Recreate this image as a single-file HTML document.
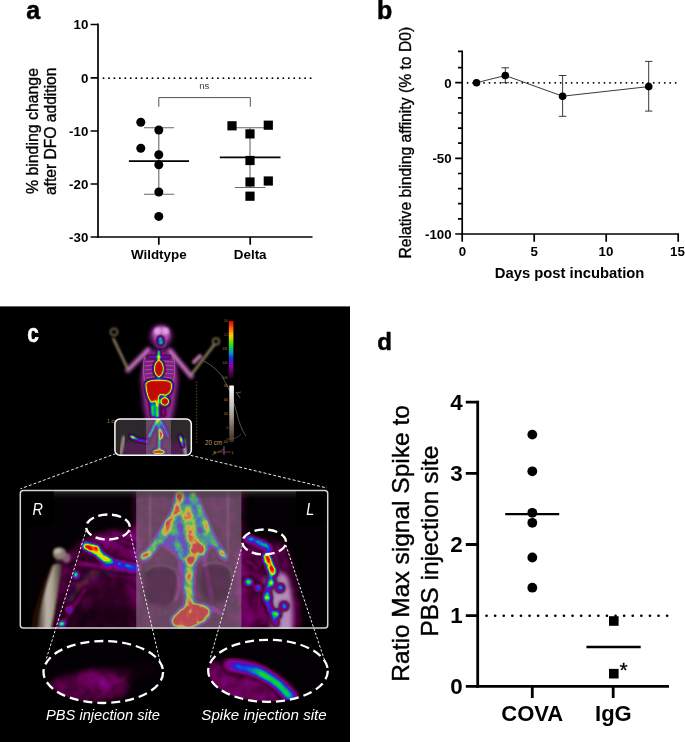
<!DOCTYPE html>
<html>
<head>
<meta charset="utf-8">
<title>Figure</title>
<style>
html,body{margin:0;padding:0;background:#fff;}
body{width:685px;height:742px;overflow:hidden;font-family:"Liberation Sans",sans-serif;}
svg{display:block;}
text{font-family:"Liberation Sans",sans-serif;}
.b{font-weight:bold;}
</style>
</head>
<body>
<svg width="685" height="742" viewBox="0 0 685 742">
<defs><filter id="idf" x="0" y="0" width="685" height="742" filterUnits="userSpaceOnUse"><feOffset dx="0" dy="0"/></filter></defs>
<rect x="0" y="0" width="685" height="742" fill="#fff"/>

<!-- ================= PANEL A ================= -->
<g id="panelA" filter="url(#idf)">
<text x="26.3" y="19.3" class="b" font-size="25" fill="#000" stroke="#000" stroke-width=".5">a</text>
<g stroke="#000" stroke-width="1.7" fill="none">
<path d="M98 23.6V237.8"/>
<path d="M97.2 237H312.5"/>
<path d="M90.6 24.5H98M90.6 77.9H98M90.6 131H98M90.6 184H98M90.6 237H98"/>
<path d="M158.8 237V244.8M250.2 237V244.8"/>
</g>
<path d="M103.45 78.2H311.6" stroke="#000" stroke-width="1.8" stroke-linecap="round" stroke-dasharray="0.1 5.35" fill="none"/>
<g class="b" font-size="13.3" fill="#000" text-anchor="end">
<text x="88.3" y="29.2">10</text>
<text x="88.3" y="82.6">0</text>
<text x="88.3" y="135.7">-10</text>
<text x="88.3" y="188.7">-20</text>
<text x="88.3" y="241.7">-30</text>
</g>
<g font-size="15.7" fill="#000" text-anchor="middle" stroke="#000" stroke-width="0.35">
<text transform="translate(37.5,131.05) rotate(-90)" textLength="126.1" lengthAdjust="spacingAndGlyphs">% binding change</text>
<text transform="translate(55.65,131.3) rotate(-90)" textLength="127.6" lengthAdjust="spacingAndGlyphs">after DFO addition</text>
</g>
<g class="b" font-size="13.4" fill="#000" text-anchor="middle">
<text x="158.8" y="259.2">Wildtype</text>
<text x="250.2" y="259.2">Delta</text>
</g>
<text x="204.2" y="89.2" font-size="9.6" fill="#444" text-anchor="middle">ns</text>
<path d="M158.8 106.8V97.6H250.3V106.8" stroke="#333" stroke-width="0.85" fill="none"/>
<g stroke="#686868" stroke-width="1.1" fill="none">
<path d="M158.8 127.8V194.2M144 127.8H174.2M144 194.2H174.2"/>
<path d="M250 127.8V187.5M235 127.8H265.4M235 187.5H265.4"/>
</g>
<g stroke="#000" stroke-width="1.7" fill="none">
<path d="M128.9 161.2H189"/>
<path d="M219.8 157.3H280.5"/>
</g>
<g fill="#000">
<circle cx="140.8" cy="122.3" r="4.5"/>
<circle cx="158.8" cy="130" r="4.5"/>
<circle cx="140.8" cy="148.3" r="4.5"/>
<circle cx="158.8" cy="154.7" r="4.5"/>
<circle cx="158.8" cy="164.7" r="4.5"/>
<circle cx="158.8" cy="192" r="4.5"/>
<circle cx="158.8" cy="216.4" r="4.5"/>
<rect x="227.4" y="121.2" width="9.2" height="9.2"/>
<rect x="263.7" y="120.6" width="9.2" height="9.2"/>
<rect x="245.4" y="129.3" width="9.2" height="9.2"/>
<rect x="245.4" y="155.9" width="9.2" height="9.2"/>
<rect x="245.4" y="177.4" width="9.2" height="9.2"/>
<rect x="263.7" y="176.4" width="9.2" height="9.2"/>
<rect x="245.4" y="191.6" width="9.2" height="9.2"/>
</g>
</g>

<!-- ================= PANEL B ================= -->
<g id="panelB" filter="url(#idf)">
<text x="377" y="19" class="b" font-size="25" fill="#000" stroke="#000" stroke-width=".5">b</text>
<g stroke="#000" stroke-width="1.7" fill="none">
<path d="M462.2 50.5V234.8"/>
<path d="M461.4 234H679"/>
<path d="M455.2 82.7H462M455.2 158.4H462M455.2 234H462"/>
<path d="M458 51.3H462M458 67.6H462M458 97.8H462M458 113H462M458 128.1H462M458 143.2H462M458 173.5H462M458 188.6H462M458 203.7H462M458 218.9H462"/>
<path d="M462.2 234V241.7M534.2 234V241.7M606.2 234V241.7M678.2 234V241.7"/>
</g>
<path d="M467.55 82.8H677" stroke="#000" stroke-width="1.8" stroke-linecap="round" stroke-dasharray="0.1 5.376" fill="none"/>
<g class="b" font-size="13.3" fill="#000" text-anchor="end">
<text x="451.6" y="87.5">0</text>
<text x="451.6" y="163.2">-50</text>
<text x="451.6" y="238.8">-100</text>
</g>
<g class="b" font-size="13.3" fill="#000" text-anchor="middle">
<text x="462.4" y="256">0</text>
<text x="534.2" y="256">5</text>
<text x="606" y="256">10</text>
<text x="677.5" y="256">15</text>
</g>
<text x="569.6" y="278.2" class="b" font-size="14.8" fill="#000" text-anchor="middle">Days post incubation</text>
<text transform="translate(410.8,142.7) rotate(-90)" font-size="15.7" fill="#000" text-anchor="middle" stroke="#000" stroke-width="0.35" textLength="231.8" lengthAdjust="spacingAndGlyphs">Relative binding affinity (% to D0)</text>
<path d="M476.5 82.7L505.3 75.5L562.6 96.2L648.7 86.6" stroke="#222" stroke-width="0.9" fill="none"/>
<g stroke="#222" stroke-width="0.9" fill="none">
<path d="M505.3 67.8V82.7M501.5 67.8H509.1M501.5 82.7H509.1"/>
<path d="M562.6 75.5V116.3M558.8 75.5H566.4M558.8 116.3H566.4"/>
<path d="M648.7 61.4V111.1M645 61.4H652.4M645 111.1H652.4"/>
</g>
<g fill="#000">
<circle cx="476.5" cy="82.7" r="3.8"/>
<circle cx="505.3" cy="75.5" r="3.8"/>
<circle cx="562.6" cy="96.2" r="3.8"/>
<circle cx="648.7" cy="86.6" r="3.8"/>
</g>
</g>

<!-- ================= PANEL C ================= -->
<g id="panelC">
<defs>
<!-- PET colour map: alpha -> rainbow -->
<filter id="pet" x="-20%" y="-20%" width="140%" height="140%" color-interpolation-filters="sRGB">
<feGaussianBlur stdDeviation="2.0" result="b"/>
<feTurbulence type="fractalNoise" baseFrequency="0.14" numOctaves="2" seed="3" result="t"/>
<feComposite in="b" in2="t" operator="arithmetic" k1="0.8" k2="0.65" k3="0" k4="0"/>
<feColorMatrix type="matrix" values="0 0 0 1 0  0 0 0 1 0  0 0 0 1 0  0 0 0 1 0"/>
<feComponentTransfer>
<feFuncR type="table" tableValues="0 .22 .42 .52 .15 0 .05 .8 1 1 .86"/>
<feFuncG type="table" tableValues="0 0 0 .02 .12 .55 .85 .95 .75 .2 .04"/>
<feFuncB type="table" tableValues="0 .16 .34 .56 .9 .7 .15 0 0 0 .02"/>
<feFuncA type="table" tableValues="0 .7 .95 1 1 1 1 1 1 1 1"/>
</feComponentTransfer>
</filter>
<filter id="petSm" x="-20%" y="-20%" width="140%" height="140%" color-interpolation-filters="sRGB">
<feGaussianBlur stdDeviation="2.6" result="b"/>
<feTurbulence type="fractalNoise" baseFrequency="0.08" numOctaves="2" seed="3" result="t"/>
<feComposite in="b" in2="t" operator="arithmetic" k1="0.3" k2="0.85" k3="0" k4="0"/>
<feColorMatrix type="matrix" values="0 0 0 1 0  0 0 0 1 0  0 0 0 1 0  0 0 0 1 0"/>
<feComponentTransfer>
<feFuncR type="table" tableValues="0 .22 .42 .52 .15 0 .05 .8 1 1 .86"/>
<feFuncG type="table" tableValues="0 0 0 .02 .12 .55 .85 .95 .75 .2 .04"/>
<feFuncB type="table" tableValues="0 .16 .34 .56 .9 .7 .15 0 0 0 .02"/>
<feFuncA type="table" tableValues="0 .7 .95 1 1 1 1 1 1 1 1"/>
</feComponentTransfer>
</filter>
<filter id="petS" x="-20%" y="-20%" width="140%" height="140%" color-interpolation-filters="sRGB">
<feGaussianBlur stdDeviation="0.9" result="b"/>
<feTurbulence type="fractalNoise" baseFrequency="0.3" numOctaves="2" seed="5" result="t"/>
<feComposite in="b" in2="t" operator="arithmetic" k1="0" k2="1" k3="0" k4="0"/>
<feColorMatrix type="matrix" values="0 0 0 1 0  0 0 0 1 0  0 0 0 1 0  0 0 0 1 0"/>
<feComponentTransfer>
<feFuncR type="table" tableValues="0 .22 .42 .52 .15 0 .05 .8 1 .9 .76"/>
<feFuncG type="table" tableValues="0 0 0 .02 .12 .55 .85 .95 .75 .2 .04"/>
<feFuncB type="table" tableValues="0 .16 .34 .56 .9 .7 .15 0 0 0 .02"/>
<feFuncA type="table" tableValues="0 .7 .95 1 1 1 1 1 1 1 1"/>
</feComponentTransfer>
</filter>
<filter id="petB" x="-20%" y="-20%" width="140%" height="140%" color-interpolation-filters="sRGB">
<feGaussianBlur stdDeviation="1.2" result="b"/>
<feTurbulence type="fractalNoise" baseFrequency="0.3" numOctaves="2" seed="5" result="t"/>
<feComposite in="b" in2="t" operator="arithmetic" k1="0.3" k2="0.85" k3="0" k4="0"/>
<feColorMatrix type="matrix" values="0 0 0 1 0  0 0 0 1 0  0 0 0 1 0  0 0 0 1 0"/>
<feComponentTransfer>
<feFuncR type="table" tableValues="0 .22 .42 .52 .15 0 .05 .8 1 .9 .76"/>
<feFuncG type="table" tableValues="0 0 0 .02 .12 .55 .85 .95 .75 .2 .04"/>
<feFuncB type="table" tableValues="0 .16 .34 .56 .9 .7 .15 0 0 0 .02"/>
<feFuncA type="table" tableValues="0 .7 .95 1 1 1 1 1 1 1 1"/>
</feComponentTransfer>
</filter>
<filter id="haze" x="-20%" y="-20%" width="140%" height="140%" color-interpolation-filters="sRGB">
<feGaussianBlur stdDeviation="4" result="b"/>
<feTurbulence type="fractalNoise" baseFrequency="0.09" numOctaves="2" seed="11" result="t"/>
<feComposite in="b" in2="t" operator="arithmetic" k1="0.9" k2="0.55" k3="0" k4="0"/>
<feColorMatrix type="matrix" values="0 0 0 1 0  0 0 0 1 0  0 0 0 1 0  0 0 0 1 0"/>
<feComponentTransfer>
<feFuncR type="table" tableValues="0 .22 .42 .52 .15 0 .05 .8 1 1 .86"/>
<feFuncG type="table" tableValues="0 0 0 .02 .12 .55 .85 .95 .75 .2 .04"/>
<feFuncB type="table" tableValues="0 .16 .34 .56 .9 .7 .15 0 0 0 .02"/>
<feFuncA type="table" tableValues="0 .7 .95 1 1 1 1 1 1 1 1"/>
</feComponentTransfer>
</filter>
<filter id="bl1"><feGaussianBlur stdDeviation="0.8"/></filter>
<filter id="bl2"><feGaussianBlur stdDeviation="2"/></filter>
<filter id="bl4"><feGaussianBlur stdDeviation="4"/></filter>
<linearGradient id="boneG" x1="0" y1="0" x2="1" y2="0">
<stop offset="0" stop-color="#35261e"/><stop offset=".4" stop-color="#bdb5a8"/><stop offset=".62" stop-color="#a89e90"/><stop offset="1" stop-color="#42322a"/>
</linearGradient>
<linearGradient id="rainbow" x1="0" y1="0" x2="0" y2="1">
<stop offset="0" stop-color="#e00000"/><stop offset=".12" stop-color="#ff5a00"/><stop offset=".25" stop-color="#ffd000"/><stop offset=".4" stop-color="#40e000"/><stop offset=".55" stop-color="#00a0c0"/><stop offset=".65" stop-color="#2030e0"/><stop offset=".8" stop-color="#9000a0"/><stop offset="1" stop-color="#200020"/>
</linearGradient>
<linearGradient id="grayG" x1="0" y1="0" x2="0" y2="1">
<stop offset="0" stop-color="#ffffff"/><stop offset=".5" stop-color="#b0a8a0"/><stop offset="1" stop-color="#3a2418"/>
</linearGradient>
<linearGradient id="topSh" x1="0" y1="0" x2="0" y2="1">
<stop offset="0" stop-color="#4a4a4a" stop-opacity=".7"/><stop offset="1" stop-color="#222" stop-opacity="0"/>
</linearGradient>
<clipPath id="bigClip"><rect x="20" y="490.4" width="307.8" height="137.8" rx="3.5"/></clipPath>
<clipPath id="smClip"><rect x="114.9" y="419" width="76.4" height="36.3" rx="5"/></clipPath>
<clipPath id="elL"><ellipse cx="103.3" cy="672" rx="59.8" ry="31"/></clipPath>
<clipPath id="elR"><ellipse cx="268" cy="670.8" rx="59.8" ry="31"/></clipPath>
</defs>

<rect x="0" y="306.4" width="350" height="436" fill="#000"/>
<text filter="url(#idf)" x="27.2" y="342" class="b" font-size="25" fill="#fff" stroke="#fff" stroke-width=".5" textLength="11.6" lengthAdjust="spacingAndGlyphs">c</text>

<!-- ===== whole mouse ===== -->
<g id="mouse">
<!-- purple body halo -->
<g filter="url(#bl2)" fill="#96289a" opacity=".85">
<ellipse cx="161" cy="336" rx="11" ry="11.5"/>
<path d="M145 350 L174 350 L178.5 380 L175 408 L170 430 L148 430 L143.5 408 L140.5 380Z"/>
</g>
<g filter="url(#bl1)" fill="none" stroke="#d060c8" stroke-width="1" opacity=".55">
<path d="M146 354Q141 372 145 392Q147 408 151 420M172.500 354Q177 372 173.500 392Q171 408 168 420"/>
</g>
<!-- arms pink -->
<g fill="none" stroke-linecap="round" filter="url(#bl1)">
<path d="M128 370L148 350" stroke="#8a3a90" stroke-width="7" opacity=".7"/>
<path d="M191 376L170 351" stroke="#8a3a90" stroke-width="7" opacity=".7"/>
<path d="M128 370L148 350" stroke="#d080c0" stroke-width="2.2"/>
<path d="M191 376L170 351" stroke="#d080c0" stroke-width="2.2"/>
<path d="M113.5 339L128 369.5" stroke="#8c7c5c" stroke-width="2.6"/>
<path d="M214 345L191.5 374.5" stroke="#8c7c5c" stroke-width="2.6"/>
<path d="M200 356L194 362" stroke="#b070a0" stroke-width="4"/>
<circle cx="114" cy="332" r="3.5" stroke="#8c7c5c" stroke-width="1.5"/>
<circle cx="216" cy="341.5" r="3.2" stroke="#8c7c5c" stroke-width="1.5"/>
</g>
<!-- skull -->
<g filter="url(#bl1)">
<ellipse cx="161.3" cy="334" rx="8.6" ry="8" fill="#b050b0"/>
<ellipse cx="157.5" cy="331" rx="3.6" ry="3.4" fill="#e0a0e0"/>
<ellipse cx="165.5" cy="331" rx="3.6" ry="3.4" fill="#e0a0e0"/>
<rect x="156.5" y="338" width="9" height="9" rx="2" fill="#7060c0"/>
</g>
<!-- ribs -->
<g stroke="#c070b8" stroke-width=".7" fill="none" opacity=".9">
<path d="M146 358Q158.7 355 172 358M145 362Q158.7 359 173 362M144.5 366Q158.7 363 173.5 366M144.5 370Q158.7 367 173.5 370M145 374Q158.7 371 173 374M146 378Q158.7 375 172 378M147 382Q158.7 379 171 382"/>
<path d="M144.5 357Q141.5 372 146 385M173.5 357Q176.5 372 172 385"/>
</g>
<!-- PET hot organs -->
<g filter="url(#petS)" fill="#fff">
<ellipse cx="160.6" cy="341" rx="3.2" ry="4.6" opacity=".5"/>
<circle cx="160" cy="338" r="1.2" opacity=".5"/>
<circle cx="161.500" cy="343" r="1.2" opacity=".5"/>
<path d="M147.5 357H170" stroke="#fff" stroke-width="1.6" opacity=".75" fill="none"/>
<path d="M158.7 350V378" stroke="#fff" stroke-width="2.4" opacity=".9" fill="none"/>
<ellipse cx="158.9" cy="368.5" rx="5.2" ry="8.6" opacity="1"/>
<ellipse cx="158.9" cy="368.5" rx="3.8" ry="7" opacity="1"/>
<path d="M145 384Q146 379 158.7 379.5Q171.5 379 172.5 384Q173 393 166 396L160 395Q157 402 151 402.5Q146 398 145 384Z" opacity="1"/>
<path d="M147 384Q148 381 158.7 381.5Q169.5 381 170.5 385Q171 392 165 394L159 393Q156 400 152 400Q148 396 147 384Z" opacity="1"/>
<circle cx="164.8" cy="401.5" r="4.6" opacity="1"/>
<circle cx="164.8" cy="401.5" r="3.4" opacity="1"/>
<path d="M153 400L155 418" stroke="#fff" stroke-width="8" opacity=".4" fill="none"/>
<path d="M157.8 394V418" stroke="#fff" stroke-width="3" opacity=".62" fill="none"/>
<path d="M152.500 405V416" stroke="#fff" stroke-width="3" opacity=".42" fill="none"/>
<path d="M157.500 398V406" stroke="#fff" stroke-width="2.2" opacity=".9" fill="none"/>
<path d="M163.500 408V416" stroke="#fff" stroke-width="2.5" opacity=".4" fill="none"/>
</g>
<!-- wire -->
<path d="M203.4 360.8Q214 366 222 376Q232 392 236 410Q240 428 246 436" stroke="#888" stroke-width=".6" fill="none"/>
<!-- ruler -->
<path d="M196.6 381.8V444" stroke="#9a6a2a" stroke-width="1.4" stroke-dasharray=".8 2.2" fill="none"/>
<text x="205" y="444.5" font-size="6.3" fill="#c09a60">20 cm</text>
<text x="107" y="423" font-size="5.2" fill="#c07a20">1 cm</text>
<!-- colour bars -->
<rect x="228.8" y="321" width="4.6" height="57" fill="url(#rainbow)"/>
<rect x="229.3" y="385.5" width="4.6" height="56.5" fill="url(#grayG)"/>
<g font-size="2.6" fill="#c08030" text-anchor="end">
<text x="227.5" y="322">1.6</text><text x="227.5" y="336">1.2</text><text x="227.5" y="350">0.81</text><text x="227.5" y="364">0.41</text><text x="227.5" y="378.5">0.00</text>
<text x="228" y="387">500</text><text x="228" y="400.5">400</text><text x="228" y="414.5">200</text><text x="228" y="428.5">0</text><text x="228" y="442.5">-100</text>
</g>
<path d="M226 439Q236 440 241 434" stroke="#777" stroke-width=".5" fill="none"/>
<path d="M236 392l4 6m-3 -5l4 -1" stroke="#999" stroke-width=".6" fill="none"/>
<path d="M224 446V455" stroke="#20b0e0" stroke-width=".8"/>
<path d="M218 452H231" stroke="#e02020" stroke-width=".8"/>
<path d="M212 455L224 449" stroke="#888" stroke-width=".5"/>
<text x="232" y="454" font-size="3" fill="#d0c020">L</text>
<text x="213.5" y="454" font-size="3" fill="#d0c020">R</text>
</g>

<!-- ===== small box ===== -->
<g clip-path="url(#smClip)">
<rect x="114" y="418" width="78" height="38" fill="#2c282c"/>
<g filter="url(#bl2)" fill="#5a1a5a" opacity=".75">
<ellipse cx="136" cy="449" rx="14" ry="8"/>
<ellipse cx="172" cy="449" rx="14" ry="8"/>
<rect x="146" y="420" width="22" height="36"/>
</g>
<path d="M124 436L120.5 455" stroke="#a09888" stroke-width="3" fill="none" filter="url(#bl1)"/>
<path d="M183 439L186 455" stroke="#c0a0d0" stroke-width="3" fill="none" filter="url(#bl1)"/>
<g filter="url(#petB)" fill="none" stroke="#fff" stroke-linecap="round">
<path d="M157.5 419L149 437" stroke-width="3" opacity=".7"/>
<path d="M160 419L168.5 437" stroke-width="2.4" opacity=".65"/>
<path d="M158 420L160 432" stroke-width="4" opacity=".5"/>
<path d="M160 430L159 450" stroke-width="3.2" opacity=".7"/>
<path d="M161 433L161.5 437" stroke-width="4" opacity="1"/>
<path d="M155 452H163" stroke-width="4.5" opacity="1"/>
<path d="M133 437L138 440L148 442" stroke-width="2.6" opacity=".6"/>
<path d="M131 436.5L134 438" stroke-width="3" opacity=".9"/>
<path d="M180 436L183 446" stroke-width="2.6" opacity=".7"/>
<path d="M181 439L181.5 441" stroke-width="2.5" opacity="1"/>
</g>
<rect x="146" y="418" width="25" height="38" fill="#b8a8b8" opacity=".3"/>
</g>
<rect x="114.9" y="419" width="76.4" height="36.3" rx="5" fill="none" stroke="#fff" stroke-width="1.5"/>

<!-- dashed connectors -->
<g stroke="#e8e8e8" stroke-width="1" stroke-dasharray="3 2" fill="none">
<path d="M116 453.5L20.5 488.8"/>
<path d="M190.5 455.3L327 488"/>
</g>

<!-- ===== BIG BOX ===== -->
<g clip-path="url(#bigClip)">
<rect x="19" y="489" width="310" height="140" fill="#030103"/>
<!-- purple haze (low intensity through colour map) -->
<g filter="url(#haze)" fill="#fff">
<path d="M50 575Q60 552 84 538Q110 526 138 530V632H34Q40 600 50 575Z" opacity=".15"/>
<path d="M84 540Q110 528 138 534V560Q110 548 84 552Z" opacity=".1"/>
<path d="M240 548Q258 530 284 544Q300 570 302 632H240Z" opacity=".18"/>
<rect x="132" y="486" width="113" height="146" opacity=".14"/>
</g>
<path d="M70 604Q78 584 92 573Q112 566 138 572" fill="none" stroke="#fff" stroke-width="8" opacity=".1" filter="url(#haze)"/>
<rect x="60" y="606" width="80" height="24" fill="#000" opacity=".55" filter="url(#bl4)"/>
<!-- darker thigh core -->
<ellipse cx="113" cy="602" rx="20" ry="20" fill="#1a0016" opacity=".55" filter="url(#bl4)"/>
<!-- right limb lavender -->
<g filter="url(#bl2)">
<path d="M264 580Q275 568 286 575Q294 592 292 632H272Q271 602 264 580Z" fill="#c09acc" opacity=".9"/>
<path d="M262 550Q270 548 276 558L281 580L270 580Z" fill="#8a4a90" opacity=".6"/>
</g>
<!-- PET layer -->
<g filter="url(#pet)" fill="none" stroke="#fff" stroke-linecap="round" stroke-linejoin="round">
<!-- left hot spot -->
<path d="M86 545.5L97 549" stroke-width="6.5" opacity=".95"/>
<circle cx="89.5" cy="546.2" r="2.3" fill="#fff" stroke="none" opacity="1"/>
<circle cx="96" cy="548.6" r="2.2" fill="#fff" stroke="none" opacity="1"/>
<path d="M85 546L100 554L108 561" stroke-width="7" opacity=".7"/>
<path d="M100 557L118 563L138 567" stroke-width="5.5" opacity=".5"/>
<path d="M78 563L108 568L138 572" stroke-width="4" opacity=".36"/>
<circle cx="76" cy="575" r="3" fill="#fff" stroke="none" opacity=".95"/>
<circle cx="68.5" cy="609" r="2.8" fill="#fff" stroke="none" opacity=".6"/>
<circle cx="61.5" cy="624" r="3" fill="#fff" stroke="none" opacity=".9"/>
<path d="M86 588L70 612L62 626" stroke-width="2.5" opacity=".4"/>
<path d="M118 540L134 545" stroke-width="3" opacity=".3"/>
<!-- right hot streak -->
<path d="M266.5 557L272.5 572" stroke-width="7" opacity="1"/>
<path d="M267 558L272 571" stroke-width="4" opacity="1"/>
<path d="M250 538L262 542.5L270 547.5" stroke-width="3.4" opacity=".62"/>
<path d="M247 539.5L270 550" stroke-width="7.5" opacity=".3"/>
<ellipse cx="248.5" cy="582" rx="4" ry="3" fill="#fff" stroke="none" opacity="1"/>
<circle cx="258" cy="588" r="3" fill="#fff" stroke="none" opacity=".8"/>
<path d="M271 576L266 598L276 624" stroke-width="4" opacity=".55"/>
<circle cx="267" cy="597" r="3.4" fill="#fff" stroke="none" opacity="1"/>
<circle cx="272" cy="583" r="3" fill="#fff" stroke="none" opacity=".9"/>
<circle cx="280" cy="588" r="3" fill="#fff" stroke="none" opacity=".85"/>
<circle cx="284" cy="606" r="3" fill="#fff" stroke="none" opacity=".85"/>
<circle cx="277" cy="614" r="3" fill="#fff" stroke="none" opacity=".9"/>
<path d="M246 560L260 570" stroke-width="3" opacity=".35"/>
<!-- central: interior fill -->
<path d="M180 494H193L214 545L190 566L160 545Z" fill="#fff" stroke="none" opacity=".36"/>
<!-- left branch -->
<path d="M180 492L177 509L168.5 523L161 536L152 550L144 557" stroke-width="8.5" opacity=".62"/>
<path d="M181 492L178 500" stroke-width="5" opacity="1"/>
<path d="M177.5 507L175.5 513" stroke-width="5" opacity="1"/>
<path d="M169.5 520L166 527" stroke-width="4" opacity="1"/>
<path d="M142.5 558L147.5 554" stroke-width="5.5" opacity="1"/>
<!-- right branch -->
<path d="M192 492L200 508L206 523.5L212.5 538L223 555" stroke-width="6" opacity=".66"/>
<path d="M205 520L208 529" stroke-width="3" opacity=".95"/>
<path d="M222 553L226 559" stroke-width="4" opacity="1"/>
<!-- central column -->
<path d="M187 512L190 530L196 548L190 566L188.5 585L190 606" stroke-width="11" opacity=".6"/>
<path d="M189.5 566L188.5 585L190 604" stroke-width="4" opacity=".3"/>
<ellipse cx="197.5" cy="549" rx="8.5" ry="6" fill="#fff" stroke="none" opacity="1"/>
<ellipse cx="197.5" cy="549" rx="6.5" ry="4.2" fill="#fff" stroke="none" opacity="1"/>
<ellipse cx="191" cy="560.5" rx="5" ry="3.2" fill="#fff" stroke="none" opacity="1"/>
<ellipse cx="191" cy="560.5" rx="3.5" ry="2" fill="#fff" stroke="none" opacity="1"/>
<path d="M188 575L189 582M189.5 592L190 598" stroke-width="3" opacity=".5"/>
<!-- bottom blob -->
<path d="M176 616Q184 606 195 606Q207 605 208 612Q208 619 199 622Q188 629 176 625Q170 621 176 616Z" fill="#fff" stroke="#fff" stroke-width="4" opacity="1"/>
<path d="M179 617Q186 609 195 609Q204 608 205 613Q204 618 197 620Q188 625 179 623Q174 620 179 617Z" fill="#fff" stroke="#fff" stroke-width="2" opacity="1"/>
<!-- speckles -->
<path d="M172 524L181 562L176 600" stroke-width="5" opacity=".34"/>
<path d="M204 534L205 562L212 600" stroke-width="5" opacity=".32"/>
<path d="M210 607L222 614" stroke-width="3" opacity=".62"/>
<circle cx="147" cy="602" r="2" fill="#fff" stroke="none" opacity=".45"/>
<circle cx="166" cy="612" r="2" fill="#fff" stroke="none" opacity=".45"/>
<circle cx="232" cy="600" r="2.4" fill="#fff" stroke="none" opacity=".42"/>
</g>
<!-- left bone (on top of PET) -->
<g filter="url(#bl1)">
<path d="M30 632Q36 598 50 566Q56 560 62 566Q58 590 54 632Z" fill="#2a0c04" opacity=".8"/>
<path d="M53 566Q58 561 62 566Q58 594 50 632H37Q42 596 53 566Z" fill="url(#boneG)"/>
<ellipse cx="59.5" cy="553.5" rx="6.6" ry="6.2" fill="#8c7e74"/>
<ellipse cx="57.500" cy="551" rx="3.8" ry="3" fill="#b8aea2"/>
<ellipse cx="66.5" cy="558" rx="4" ry="5" fill="#8c7080" opacity=".85"/>
<path d="M55 560Q60 563 63 560" stroke="#5a4a40" stroke-width=".8" fill="none"/>
</g>
<!-- light overlay on centre -->
<rect x="136.2" y="489" width="105.2" height="140" fill="#9c8b9c" opacity=".5"/>
<!-- pelvis lobes (dark) -->
<g filter="url(#bl2)" fill="#2a1028" opacity=".3">
<path d="M146 570Q160 560 176 570Q184 590 172 604Q156 610 146 600Q140 584 146 570Z"/>
<path d="M202 566Q216 558 230 568Q236 586 228 600Q212 608 202 596Q196 580 202 566Z"/>
</g>
<g filter="url(#bl1)" fill="none" stroke="#d8c8d8" stroke-width="1" opacity=".35">
<path d="M146 570Q160 560 176 570Q184 590 172 604"/>
<path d="M202 566Q216 558 230 568Q236 586 228 600"/>
<path d="M150 492V560M228 492V556"/>
</g>
<!-- top shadow -->
<rect x="19" y="490" width="310" height="9" fill="url(#topSh)"/>
<!-- R / L boxes -->
<rect x="20" y="490" width="33.8" height="35.4" fill="#000"/>
<rect x="296.2" y="490" width="32" height="35.4" fill="#000"/>
<rect x="20" y="525" width="7.5" height="104" fill="#000" opacity=".85"/>
</g>
<rect x="20.3" y="490.6" width="307.4" height="137.5" rx="3" fill="none" stroke="#d4d4d4" stroke-width="1.5"/>
<g font-size="17.2" font-style="italic" fill="#fff" filter="url(#idf)">
<text x="32.6" y="515" textLength="10.4" lengthAdjust="spacingAndGlyphs">R</text>
<text x="306.2" y="515" textLength="8" lengthAdjust="spacingAndGlyphs">L</text>
</g>

<!-- small dashed ellipses -->
<g fill="none" stroke="#fff" stroke-width="2.4" stroke-dasharray="9.2 4.6" stroke-dashoffset="-3">
<ellipse cx="108" cy="527" rx="21.8" ry="12.5"/>
<ellipse cx="264.2" cy="542" rx="21.8" ry="12.5"/>
</g>
<!-- dotted cone lines -->
<g stroke="#e8e8e8" stroke-width="1" stroke-dasharray="2.6 1.8" fill="none">
<path d="M86.2 530L46 660"/>
<path d="M129.6 530L160.5 664"/>
<path d="M242.5 545L210 659"/>
<path d="M285.8 545L326.5 666"/>
</g>

<!-- bottom ellipses -->
<g clip-path="url(#elL)">
<rect x="40" y="640" width="130" height="66" fill="#030003"/>
<g filter="url(#haze)" fill="#fff">
<ellipse cx="88" cy="688" rx="42" ry="16" opacity=".17"/>
<ellipse cx="106" cy="676" rx="28" ry="11" opacity=".09"/>
<ellipse cx="142" cy="670" rx="18" ry="10" opacity=".05"/>
</g>
</g>
<g clip-path="url(#elR)">
<rect x="205" y="638" width="130" height="66" fill="#030003"/>
<g filter="url(#haze)" fill="#fff">
<path d="M205 662Q240 656 270 676Q292 692 300 706H205Z" opacity=".2"/>
</g>
<g filter="url(#petSm)" fill="none" stroke="#fff" stroke-linecap="round">
<path d="M230 665Q252 667 266 675Q282 684 292 698" stroke-width="14" opacity=".33"/>
<path d="M238 667Q252 669 265 676Q280 684 290 697" stroke-width="8" opacity=".22"/>
<path d="M254 671Q268 676 280 686L288 696" stroke-width="5" opacity=".3"/>
<circle cx="262" cy="674.5" r="3" fill="#fff" stroke="none" opacity=".25"/>
<circle cx="278.5" cy="684" r="3" fill="#fff" stroke="none" opacity=".2"/>
</g>
</g>
<g fill="none" stroke="#fff" stroke-width="2.3" stroke-dasharray="9 5">
<ellipse cx="103.3" cy="672" rx="59.8" ry="31"/>
<ellipse cx="268" cy="670.8" rx="59.8" ry="31"/>
</g>
<g font-size="14" font-style="italic" fill="#fff" text-anchor="middle" filter="url(#idf)">
<text x="103" y="720" textLength="114" lengthAdjust="spacingAndGlyphs">PBS injection site</text>
<text x="264" y="720" textLength="125.4" lengthAdjust="spacingAndGlyphs">Spike injection site</text>
</g>
</g>

<!-- ================= PANEL D ================= -->
<g id="panelD" filter="url(#idf)">
<text x="377.3" y="349.8" class="b" font-size="24" fill="#000" stroke="#000" stroke-width=".5">d</text>
<g stroke="#000" stroke-width="2.8" fill="none">
<path d="M477.7 400.8V687.8"/>
<path d="M476.5 686.4H669"/>
<path d="M465.8 402.2H477.7M465.8 473.3H477.7M465.8 544.5H477.7M465.8 615.6H477.7M465.8 686.4H477.7"/>
<path d="M532.3 686.4V698M613.2 686.4V698"/>
</g>
<path d="M486.5 615.8H668" stroke="#000" stroke-width="2.6" stroke-linecap="round" stroke-dasharray="0.1 8.5" fill="none"/>
<g class="b" font-size="22.4" fill="#000" text-anchor="end">
<text x="462.8" y="410">4</text>
<text x="462.8" y="481.1">3</text>
<text x="462.8" y="552.3">2</text>
<text x="462.8" y="623.4">1</text>
<text x="462.8" y="694.2">0</text>
</g>
<g font-size="24.5" fill="#000" text-anchor="middle" stroke="#000" stroke-width="0.4">
<text transform="translate(409.2,543.4) rotate(-90)" textLength="276.6" lengthAdjust="spacingAndGlyphs">Ratio Max signal Spike to</text>
<text transform="translate(437.6,541) rotate(-90)" textLength="191" lengthAdjust="spacingAndGlyphs">PBS injection site</text>
</g>
<g class="b" font-size="22" fill="#000" text-anchor="middle">
<text x="532.3" y="720.6">COVA</text>
<text x="613.4" y="720.6">IgG</text>
</g>
<g stroke="#000" stroke-width="2.4" fill="none">
<path d="M505.2 514.1H559.2"/>
<path d="M586.4 647H640.7"/>
</g>
<g fill="#000">
<circle cx="532.3" cy="434.6" r="4.9"/>
<circle cx="532.3" cy="471.3" r="4.9"/>
<circle cx="532.3" cy="512.8" r="4.9"/>
<circle cx="532.3" cy="522.8" r="4.9"/>
<circle cx="532.3" cy="557.5" r="4.9"/>
<circle cx="532.3" cy="587.7" r="4.9"/>
<rect x="609" y="616.2" width="9.6" height="9.6"/>
<rect x="609" y="668.9" width="9.6" height="9.6"/>
</g>
<text x="623.6" y="677.2" font-size="21" fill="#000" text-anchor="middle" stroke="#000" stroke-width=".3">*</text>
</g>
</svg>
</body>
</html>
